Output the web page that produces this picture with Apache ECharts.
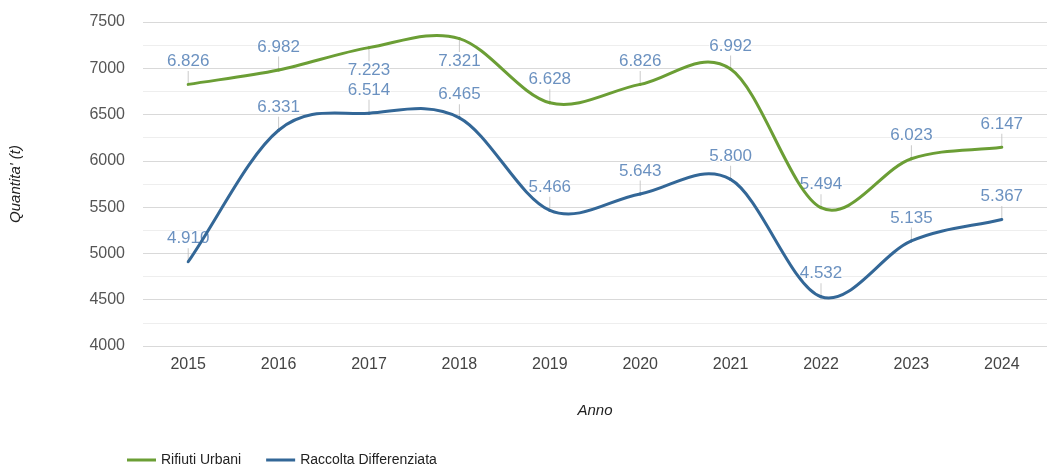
<!DOCTYPE html>
<html>
<head>
<meta charset="utf-8">
<script src="https://cdn.jsdelivr.net/npm/echarts@6/dist/echarts.min.js"></script>
<style>
  html, body { margin: 0; padding: 0; background: #fff; }
  #chart { width: 1047px; height: 464px; }
</style>
</head>
<body>
<div id="chart"></div>
<script>
// anni e quantità (t)
const anni = ["2015", "2016", "2017", "2018", "2019", "2020", "2021", "2022", "2023", "2024"];
const rifiutiUrbani = [6826, 6982, 7223, 7321, 6628, 6826, 6992, 5494, 6023, 6147];
const raccoltaDiff = [4910, 6331, 6514, 6465, 5466, 5643, 5800, 4532, 5135, 5367];

const FONT = "Liberation Sans, Arial, sans-serif";
const GREEN = "#6b9e35";
const BLUE = "#336797";
const LABEL = "#4676b0";

// etichette da mettere sotto il punto (RU 2017, 2018)
const sotto = { ru: [2, 3], rd: [] };

const fmt = (v) => String(v).replace(/\B(?=(\d{3})+(?!\d))/g, ".");

// curva tipo Catmull-Rom tra i punti, calcolata sulle coordinate dell'asse
function curveSeries(name, values, color) {
  return {
    name: name,
    type: "custom",
    data: values.map((v, i) => [i, v]),
    itemStyle: { color: color },
    z: 3,
    silent: true,
    renderItem: (params, api) => {
      const i = params.dataIndex;
      if (i >= values.length - 1) return null;
      const pt = (k) => api.coord([k, values[k]]);
      const p1 = pt(i);
      const p2 = pt(i + 1);
      const p0 = i > 0 ? pt(i - 1) : [2 * p1[0] - p2[0], 2 * p1[1] - p2[1]];
      const p3 = i + 2 < values.length ? pt(i + 2) : [2 * p2[0] - p1[0], 2 * p2[1] - p1[1]];
      const t = 1 / 6;
      return {
        type: "bezierCurve",
        shape: {
          x1: p1[0], y1: p1[1],
          x2: p2[0], y2: p2[1],
          cpx1: p1[0] + (p2[0] - p0[0]) * t,
          cpy1: p1[1] + (p2[1] - p0[1]) * t,
          cpx2: p2[0] - (p3[0] - p1[0]) * t,
          cpy2: p2[1] - (p3[1] - p1[1]) * t,
        },
        style: { stroke: color, lineWidth: 3, fill: null, lineCap: "round" },
      };
    },
  };
}

function stemSeries(name, values, below) {
  return {
    name: name + "_stem",
    type: "scatter",
    data: values.map((v, i) => {
      const down = below.includes(i);
      return {
        value: v,
        symbolOffset: [0, down ? 7 : -7],
        label: { position: down ? "bottom" : "top" },
      };
    }),
    symbol: "rect",
    symbolSize: [1, 13],
    itemStyle: { color: "#bdbdbd" },
    silent: true,
    z: 1,
    label: {
      show: true,
      distance: 1,
      color: LABEL,
      fontSize: 17,
      fontFamily: FONT,
      textBorderColor: "#fff",
      textBorderWidth: 2,
      formatter: (p) => fmt(p.value),
    },
  };
}

const option = {
  backgroundColor: "#fff",
  animation: false,
  textStyle: { fontFamily: FONT },
  grid: {
    left: 142,
    top: 22,
    width: 913,
    height: 324,
    containLabel: false,
  },
  legend: {
    data: ["Rifiuti Urbani", "Raccolta Differenziata"],
    left: 122,
    top: 448,
    icon: "rect",
    itemWidth: 29,
    itemHeight: 3,
    itemGap: 25,
    textStyle: { color: "#222", fontSize: 14, fontFamily: FONT },
  },
  xAxis: {
    type: "category",
    data: anni,
    boundaryGap: true,
    name: "Anno",
    nameLocation: "middle",
    nameGap: 57,
    nameTextStyle: { fontStyle: "italic", color: "#222", fontSize: 15, fontFamily: FONT },
    axisLine: { show: false },
    axisTick: { show: false },
    axisLabel: { color: "#444", fontSize: 16, margin: 11, fontFamily: FONT },
  },
  yAxis: {
    type: "value",
    min: 4000,
    max: 7500,
    interval: 500,
    name: "Quantita' (t)",
    nameLocation: "middle",
    nameGap: 120,
    nameRotate: 90,
    nameTextStyle: { fontStyle: "italic", color: "#222", fontSize: 15, fontFamily: FONT },
    axisLine: { show: false },
    axisTick: { show: false },
    axisLabel: { color: "#555", fontSize: 16, margin: 18, fontFamily: FONT, formatter: (v) => String(v) },
    splitLine: { lineStyle: { color: "#d9d9d9", width: 1 } },
    minorTick: { show: false, splitNumber: 2 },
    minorSplitLine: { show: true, lineStyle: { color: "#eeeeee", width: 1 } },
  },
  series: [
    curveSeries("Rifiuti Urbani", rifiutiUrbani, GREEN),
    curveSeries("Raccolta Differenziata", raccoltaDiff, BLUE),
    stemSeries("Rifiuti Urbani", rifiutiUrbani, sotto.ru),
    stemSeries("Raccolta Differenziata", raccoltaDiff, sotto.rd),
  ],
};

const chart = echarts.init(document.getElementById("chart"), null, { renderer: "canvas" });
chart.setOption(option);
</script>
</body>
</html>
